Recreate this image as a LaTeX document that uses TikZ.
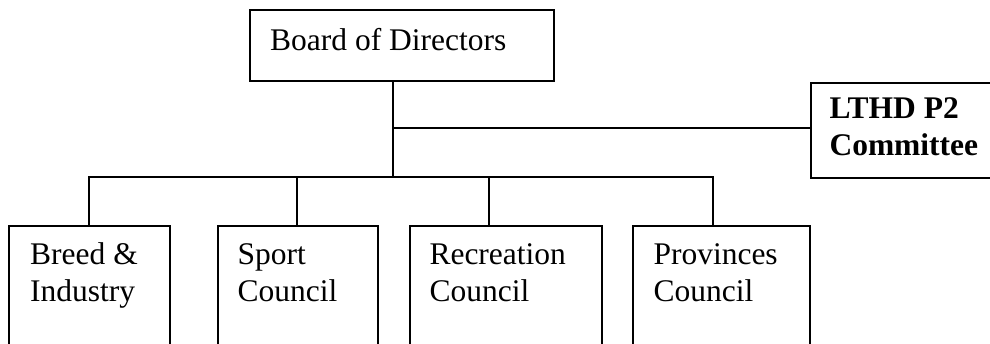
\documentclass[tikz,border=0pt]{standalone}
\usepackage{fontspec}
\setmainfont{Liberation Serif}
\begin{document}
\begin{tikzpicture}[x=1pt,y=-1pt,
  box/.style={draw, line width=2pt, rectangle, anchor=north west, inner sep=0pt},
  lbl/.style={anchor=base west, inner sep=0pt, font=\fontsize{31.5}{37}\selectfont},
  blbl/.style={lbl, font=\fontsize{31.5}{37}\selectfont\bfseries},
  conn/.style={line width=2pt}]
\useasboundingbox (0,0) rectangle (990,343);
\clip (0,0) rectangle (990,343);
% boxes
\node[box, minimum width=304pt, minimum height=71pt] (board) at (249,9) {};
\node[box, minimum width=200pt, minimum height=95pt] (lthd) at (810,82) {};
\node[box, minimum width=161pt, minimum height=140pt] (b1) at (8,225) {};
\node[box, minimum width=160pt, minimum height=140pt] (b2) at (217,225) {};
\node[box, minimum width=192pt, minimum height=140pt] (b3) at (409,225) {};
\node[box, minimum width=177pt, minimum height=140pt] (b4) at (632,225) {};
% texts
\node[lbl] (tboard) at (270,50) {Board of Directors};
\node[blbl] (tl1) at (829.3,118) {LTHD P2};
\node[blbl] (tl2) at (829.3,155) {Committee};
\node[lbl] (t11) at (30,264.3) {Breed \&};
\node[lbl] (t12) at (30,301.7) {Industry};
\node[lbl] (t21) at (237.3,264.3) {Sport};
\node[lbl] (t22) at (237.3,301.7) {Council};
\node[lbl] (t31) at (429.3,264.3) {Recreation};
\node[lbl] (t32) at (429.3,301.7) {Council};
\node[lbl] (t41) at (653.3,264.3) {Provinces};
\node[lbl] (t42) at (653.3,301.7) {Council};
% connectors
\coordinate (trunk) at (393,128);
\coordinate (bus) at (393,177);
\coordinate (d1) at (89,177);
\coordinate (d2) at (297,177);
\coordinate (d3) at (489,177);
\coordinate (d4) at (713,177);
\draw[conn] (board.south -| trunk) -- (bus);
\draw[conn] (trunk) -- (trunk -| lthd.west);
\draw[conn, line cap=rect] (d1) -- (d4);
\draw[conn] (d1) -- (d1 |- b1.north);
\draw[conn] (d2) -- (d2 |- b2.north);
\draw[conn] (d3) -- (d3 |- b3.north);
\draw[conn] (d4) -- (d4 |- b4.north);
\end{tikzpicture}
\end{document}
